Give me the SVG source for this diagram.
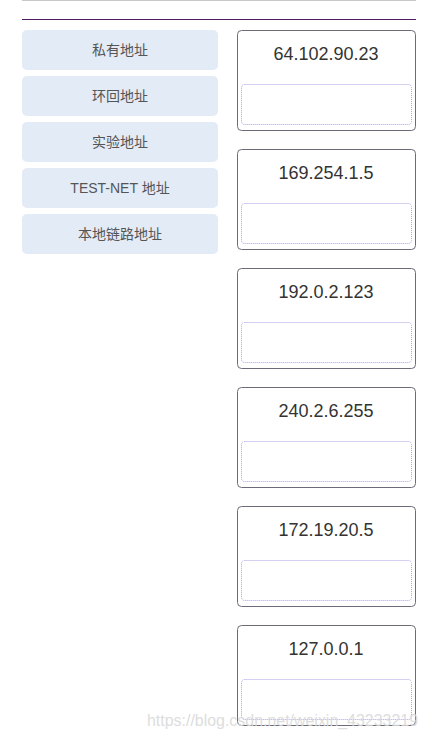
<svg xmlns="http://www.w3.org/2000/svg" width="428" height="739" viewBox="0 0 428 739">
<style>
.btn{fill:#e3ebf7}
.bt{font-family:"Liberation Sans","Noto Sans CJK SC",sans-serif;font-size:14px;fill:#555;text-anchor:middle}
.box{fill:#fff;stroke:#6c6c78;stroke-width:1}
.drop{fill:none;stroke:#aaa0e6;stroke-width:1;stroke-dasharray:1 1}
.ip{font-family:"Liberation Sans",sans-serif;font-size:18px;fill:#333;text-anchor:middle}
.wm{font-family:"Liberation Sans",sans-serif;font-size:16px;fill:#d8d8d8;opacity:0.85}
</style>
<rect width="428" height="739" fill="#fff"/>
<line x1="22" y1="0.5" x2="416" y2="0.5" stroke="#c8c8c8"/>
<line x1="22" y1="19.5" x2="416" y2="19.5" stroke="#4e1a62"/>
<g id="opt1"><rect class="btn" x="22" y="30" width="196" height="40" rx="5"/><text class="bt" x="120" y="55">私有地址</text></g>
<g id="opt2"><rect class="btn" x="22" y="76" width="196" height="40" rx="5"/><text class="bt" x="120" y="101">环回地址</text></g>
<g id="opt3"><rect class="btn" x="22" y="122" width="196" height="40" rx="5"/><text class="bt" x="120" y="147">实验地址</text></g>
<g id="opt4"><rect class="btn" x="22" y="168" width="196" height="40" rx="5"/><text class="bt" x="120" y="193">TEST-NET 地址</text></g>
<g id="opt5"><rect class="btn" x="22" y="214" width="196" height="40" rx="5"/><text class="bt" x="120" y="239">本地链路地址</text></g>
<g id="ip1"><rect class="box" x="237.5" y="30.5" width="178" height="100" rx="4"/><text class="ip" x="326" y="60">64.102.90.23</text><rect class="drop" x="241.5" y="84.5" width="170" height="40" rx="3"/></g>
<g id="ip2"><rect class="box" x="237.5" y="149.5" width="178" height="100" rx="4"/><text class="ip" x="326" y="179">169.254.1.5</text><rect class="drop" x="241.5" y="203.5" width="170" height="40" rx="3"/></g>
<g id="ip3"><rect class="box" x="237.5" y="268.5" width="178" height="100" rx="4"/><text class="ip" x="326" y="298">192.0.2.123</text><rect class="drop" x="241.5" y="322.5" width="170" height="40" rx="3"/></g>
<g id="ip4"><rect class="box" x="237.5" y="387.5" width="178" height="100" rx="4"/><text class="ip" x="326" y="417">240.2.6.255</text><rect class="drop" x="241.5" y="441.5" width="170" height="40" rx="3"/></g>
<g id="ip5"><rect class="box" x="237.5" y="506.5" width="178" height="100" rx="4"/><text class="ip" x="326" y="536">172.19.20.5</text><rect class="drop" x="241.5" y="560.5" width="170" height="40" rx="3"/></g>
<g id="ip6"><rect class="box" x="237.5" y="625.5" width="178" height="100" rx="4"/><text class="ip" x="326" y="655">127.0.0.1</text><rect class="drop" x="241.5" y="679.5" width="170" height="40" rx="3"/></g>
<g id="connectors"></g>
<text class="wm" x="147" y="726" textLength="271" lengthAdjust="spacingAndGlyphs">https://blog.csdn.net/weixin_43233219</text>
</svg>
